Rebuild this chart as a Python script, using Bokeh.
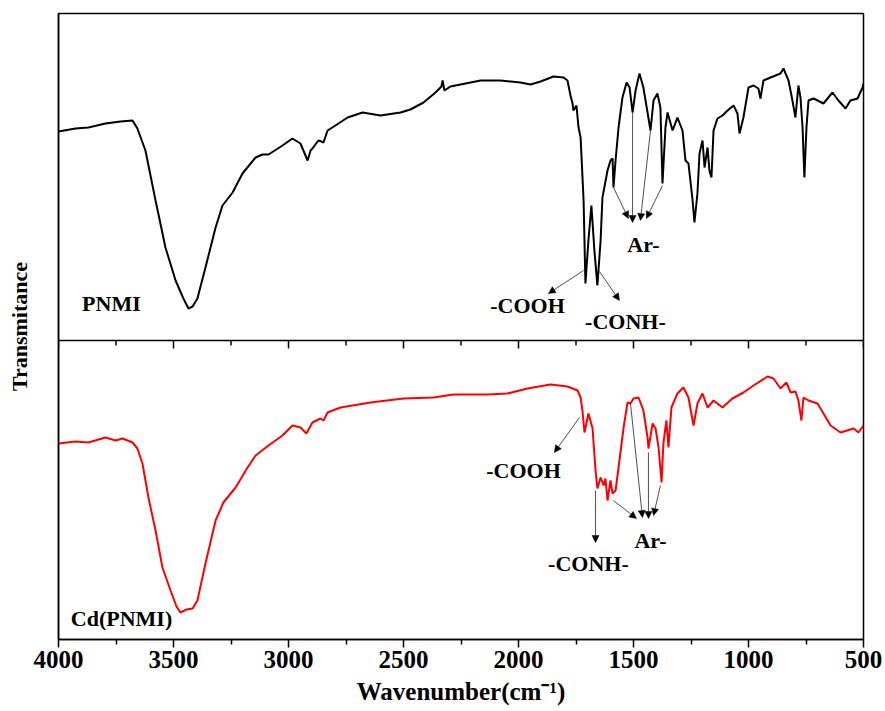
from bokeh.plotting import figure
from bokeh.models import Range1d, FixedTicker, Span, Label, Arrow, NormalHead
from bokeh.embed import file_html
from bokeh.resources import INLINE

# ---------------- data ----------------
# PNMI (top panel), wavenumber (cm-1) and transmittance (a.u.)
pnmi_wn = [4000, 3926, 3870, 3796, 3730, 3678, 3657, 3622, 3578, 3535, 3491, 3457, 3435, 3417,
           3396, 3361, 3317, 3287, 3243, 3200, 3143, 3113, 3087, 3026, 2983, 2948, 2926, 2917,
           2904, 2896, 2870, 2857, 2848, 2830, 2796, 2743, 2678, 2600, 2513, 2470, 2413, 2361,
           2335, 2330, 2322, 2296, 2252, 2165, 2078, 1991, 1948, 1904, 1848, 1804, 1787, 1774,
           1765, 1761, 1748, 1739, 1730, 1717, 1709, 1696, 1683, 1670, 1657, 1643, 1635, 1613,
           1600, 1591, 1587, 1578, 1565, 1548, 1530, 1517, 1504, 1491, 1474, 1457, 1426, 1413,
           1396, 1383, 1374, 1361, 1352, 1330, 1309, 1287, 1274, 1261, 1243, 1235, 1222, 1213,
           1200, 1191, 1178, 1170, 1161, 1152, 1135, 1113, 1091, 1065, 1048, 1039, 1022, 1000,
           978, 957, 948, 935, 904, 861, 848, 826, 809, 796, 783, 774, 765, 757, 748, 739, 717,
           674, 635, 609, 578, 557, 526, 504, 500]
pnmi_t = [209, 212, 213, 217, 219, 220, 212, 190, 140, 93, 60, 42, 32, 34,
          42, 73, 113, 135, 148, 167, 183, 186, 186, 195, 202, 197, 185, 180,
          190, 192, 200, 199, 198, 210, 215, 223, 228, 225, 228, 231, 238, 248,
          254, 260, 250, 254, 256, 260, 260, 258, 256, 259, 264, 263, 260, 245,
          237, 230, 235, 213, 203, 140, 57, 100, 135, 90, 55, 100, 143, 170,
          180, 182, 153, 180, 213, 243, 258, 253, 228, 250, 267, 253, 210, 240,
          247, 233, 157, 213, 228, 210, 223, 210, 180, 177, 140, 118, 147, 187,
          200, 173, 193, 170, 163, 210, 222, 225, 230, 235, 227, 207, 223, 253,
          255, 252, 242, 260, 263, 267, 272, 260, 240, 223, 255, 243, 213, 163, 213, 240, 242,
          237, 248, 240, 232, 240, 242, 253, 257]

# Cd(PNMI) (bottom panel)
cd_wn = [4000, 3926, 3870, 3796, 3752, 3722, 3678, 3657, 3635, 3609, 3578, 3548, 3513, 3487,
         3470, 3443, 3417, 3396, 3361, 3317, 3283, 3230, 3178, 3143, 3087, 3026, 2983, 2948,
         2922, 2896, 2861, 2848, 2830, 2774, 2643, 2500, 2370, 2283, 2135, 2048, 1961, 1861,
         1787, 1743, 1730, 1722, 1713, 1696, 1678, 1665, 1657, 1643, 1630, 1622, 1613, 1600,
         1591, 1578, 1565, 1543, 1526, 1513, 1500, 1478, 1457, 1439, 1435, 1417, 1404, 1391,
         1378, 1370, 1357, 1348, 1335, 1309, 1283, 1261, 1239, 1222, 1200, 1178, 1152, 1113,
         1070, 1022, 978, 917, 891, 861, 835, 817, 796, 783, 770, 761, 739, 700, 674, 643,
         600, 543, 522, 500]
cd_t = [196, 198, 197, 202, 199, 201, 197, 191, 176, 142, 109, 72, 49, 33,
        27, 30, 31, 39, 76, 119, 137, 152, 172, 184, 194, 204, 214, 212,
        206, 217, 221, 219, 227, 232, 237, 241, 242, 245, 245, 246, 251, 255,
        253, 249, 242, 229, 207, 226, 211, 169, 151, 162, 154, 161, 139, 159,
        146, 149, 172, 212, 237, 236, 241, 242, 229, 202, 191, 216, 211, 192,
        157, 196, 219, 192, 232, 246, 252, 242, 214, 236, 246, 232, 239, 232,
        241, 247, 254, 263, 261, 251, 257, 247, 248, 239, 219, 242, 239, 236, 226, 214,
        207, 211, 207, 214]

x_ticks = [4000, 3500, 3000, 2500, 2000, 1500, 1000, 500]
x_minor = [3750, 3250, 2750, 2250, 1750, 1250, 750]
panel_split = 299          # transmittance offset separating the panels
top_offset = panel_split

# annotations: (text, wavenumber, transmittance-on-plot)
labels = [("PNMI", 3770, 336), ("Cd(PNMI)", 3726, 21),
          ("-COOH", 1961, 334), ("-CONH-", 1535, 318), ("Ar-", 1457, 395),
          ("-COOH", 1978, 169), ("-CONH-", 1696, 76), ("Ar-", 1426, 99)]
arrows = [
    (1717, 369, 1870, 346), (1648, 368, 1561, 339),
    (1587, 452, 1522, 421), (1504, 527, 1504, 417), (1426, 509, 1470, 419), (1374, 454, 1444, 421),
    (1735, 222, 1844, 187), (1665, 149, 1665, 97),
    (1587, 139, 1487, 121), (1513, 236, 1461, 122), (1435, 187, 1435, 121), (1383, 154, 1413, 124),
]

FONT = "Liberation Serif"

p = figure(width=885, height=711, output_backend="svg", toolbar_location=None,
           x_range=Range1d(4000, 500), y_range=Range1d(0, 626),
           min_border_left=58, min_border_right=22, min_border_top=13, min_border_bottom=72)
p.background_fill_color = "white"
p.border_fill_color = "white"
p.xgrid.visible = False
p.ygrid.visible = False
p.outline_line_color = "black"
p.outline_line_width = 1.5

# x axis
xa = p.xaxis[0]
xa.ticker = FixedTicker(ticks=x_ticks, minor_ticks=x_minor)
xa.axis_line_width = 1.5
xa.major_tick_line_width = 1.5
xa.minor_tick_line_width = 1.5
xa.major_tick_out = 8
xa.major_tick_in = 0
xa.minor_tick_out = 5
xa.minor_tick_in = 0
xa.major_label_text_font = FONT
xa.major_label_text_font_style = "bold"
xa.major_label_text_font_size = "25px"
xa.major_label_text_color = "black"
xa.major_label_standoff = 3
xa.axis_label = "Wavenumber(cm\u207b\u00b9)"
xa.axis_label_text_font = FONT
xa.axis_label_text_font_style = "bold"
xa.axis_label_text_font_size = "25px"
xa.axis_label_text_color = "black"
xa.axis_label_standoff = 7

# y axis
ya = p.yaxis[0]
ya.ticker = FixedTicker(ticks=[])
ya.axis_line_width = 1.5
ya.major_tick_line_color = None
ya.minor_tick_line_color = None
ya.axis_label = "Transmitance"
ya.axis_label_text_font = FONT
ya.axis_label_text_font_style = "bold"
ya.axis_label_text_font_size = "22px"
ya.axis_label_text_color = "black"
ya.axis_label_standoff = 27

# panel divider with its ticks
p.add_layout(Span(location=panel_split, dimension="width", line_color="black", line_width=1.5))
p.segment(x0=x_ticks, y0=[panel_split] * len(x_ticks), x1=x_ticks,
          y1=[panel_split - 8] * len(x_ticks), line_color="black", line_width=1.5)
p.segment(x0=x_minor, y0=[panel_split] * len(x_minor), x1=x_minor,
          y1=[panel_split - 5] * len(x_minor), line_color="black", line_width=1.5)

# spectra
p.line(pnmi_wn, [v + top_offset for v in pnmi_t], line_color="black", line_width=2)
p.line(cd_wn, cd_t, line_color="#ff0000", line_width=2)

# arrows
for x0, y0, x1, y1 in arrows:
    p.add_layout(Arrow(x_start=x0, y_start=y0, x_end=x1, y_end=y1,
                       line_color="#222222", line_width=0.8,
                       end=NormalHead(size=7, fill_color="black", line_color="black", line_width=0.5)))

# labels
for txt, x, y in labels:
    p.add_layout(Label(x=x, y=y, text=txt, text_align="center", text_baseline="middle",
                       text_font=FONT, text_font_style="bold", text_font_size="22px",
                       text_color="black"))

open("out.html", "w").write(file_html(p, INLINE))
